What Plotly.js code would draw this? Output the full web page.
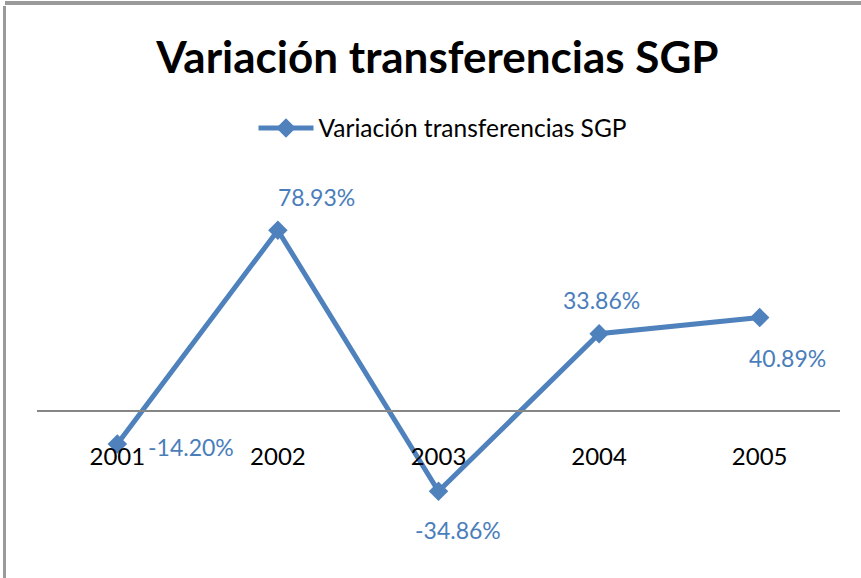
<!DOCTYPE html>
<html>
<head>
<meta charset="utf-8">
<script src="https://cdn.plot.ly/plotly-3.0.1.min.js"></script>
<style>
  body { margin: 0; background: #fff; }
  #chart { position: absolute; left: 0; top: 0; width: 861px; height: 578px; }
  #frameTop { position: absolute; left: 5px; top: 1px; width: 856px; height: 0; border-top: 4px solid #9a9a9a; pointer-events: none; }
  #frameLeft { position: absolute; left: 3px; top: 6px; width: 0; height: 572px; border-left: 3px solid #9a9a9a; pointer-events: none; }
</style>
</head>
<body>
<div id="chart"></div>
<div id="frameTop"></div>
<div id="frameLeft"></div>
<script>
const categories = ['2001', '2002', '2003', '2004', '2005'];
const values = [-14.20, 78.93, -34.86, 33.86, 40.89];
const seriesName = 'Variación transferencias SGP';
const chartTitle = 'Variación transferencias SGP';

// label offsets (styling only, in pixels)
const labelShift = [[74, -3], [39, 33], [19, -39], [2, 34], [28, -40]];

const yMin = -60, yMax = 100;
const blue = '#4F81BD';
const labelBlue = '#4A7EBB';
const fontFam = 'Lato, sans-serif';

const trace = {
  x: categories,
  y: values,
  type: 'scatter',
  mode: 'lines+markers',
  name: seriesName,
  line: { color: blue, width: 5 },
  marker: { symbol: 'diamond', size: 15, color: blue },
  cliponaxis: false
};

const annotations = [];
for (let i = 0; i < categories.length; i++) {
  annotations.push({
    x: i,
    y: values[i],
    xref: 'x',
    yref: 'y',
    text: values[i].toFixed(2) + '%',
    showarrow: false,
    xshift: labelShift[i][0],
    yshift: labelShift[i][1],
    font: { family: fontFam, size: 23, color: labelBlue }
  });
}

const layout = {
  width: 861,
  height: 578,
  margin: { l: 37, r: 21, t: 181.7, b: 29.4, pad: 0, autoexpand: false },
  paper_bgcolor: '#ffffff',
  plot_bgcolor: '#ffffff',
  title: {
    text: '<b>' + chartTitle + '</b>',
    font: { family: fontFam, size: 44, color: '#000000' },
    x: 0.508,
    xanchor: 'center',
    y: 0.9,
    yref: 'container',
    yanchor: 'middle',
    automargin: false
  },
  showlegend: true,
  legend: {
    orientation: 'h',
    x: 0.505,
    xanchor: 'center',
    y: 1 - 128 / 578,
    yref: 'container',
    yanchor: 'middle',
    itemwidth: 55,
    font: { family: fontFam, size: 24.5, color: '#000000' },
    bgcolor: 'rgba(0,0,0,0)'
  },
  xaxis: {
    type: 'category',
    range: [-0.5, 4.5],
    anchor: 'free',
    position: (0 - yMin) / (yMax - yMin),
    showline: true,
    linecolor: '#868686',
    linewidth: 2,
    showgrid: false,
    zeroline: false,
    ticks: '',
    ticklabelstandoff: 24,
    tickfont: { family: fontFam, size: 24, color: '#000000' },
    fixedrange: true
  },
  yaxis: {
    range: [yMin, yMax],
    visible: false,
    showgrid: false,
    zeroline: false,
    fixedrange: true
  },
  annotations: annotations
};

Plotly.newPlot('chart', [trace], layout, { displayModeBar: false });
</script>
</body>
</html>
